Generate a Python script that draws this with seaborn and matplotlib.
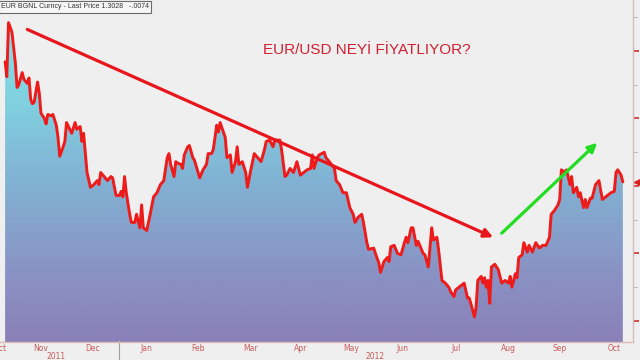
import numpy as np
import pandas as pd
import matplotlib
matplotlib.use("Agg")
import matplotlib.pyplot as plt
import matplotlib.dates as mdates
from matplotlib.colors import LinearSegmentedColormap
from matplotlib.ticker import MultipleLocator, NullFormatter
import seaborn as sns

# ---------------- data (EUR/USD) ----------------
dates = [
    "2011-10-26", "2011-10-27", "2011-10-28", "2011-10-30", "2011-11-01", "2011-11-02",
    "2011-11-03", "2011-11-05", "2011-11-06", "2011-11-08", "2011-11-09", "2011-11-10",
    "2011-11-11", "2011-11-12", "2011-11-14", "2011-11-15", "2011-11-16", "2011-11-18",
    "2011-11-19", "2011-11-20", "2011-11-22", "2011-11-23", "2011-11-25", "2011-11-26",
    "2011-11-27", "2011-11-29", "2011-11-30", "2011-12-01", "2011-12-04", "2011-12-06",
    "2011-12-07", "2011-12-09", "2011-12-10", "2011-12-11", "2011-12-13", "2011-12-15",
    "2011-12-17", "2011-12-19", "2011-12-20", "2011-12-21", "2011-12-23", "2011-12-25",
    "2011-12-27", "2011-12-28", "2011-12-30", "2012-01-01", "2012-01-02", "2012-01-03",
    "2012-01-04", "2012-01-05", "2012-01-07", "2012-01-08", "2012-01-10", "2012-01-11",
    "2012-01-13", "2012-01-14", "2012-01-15", "2012-01-17", "2012-01-19", "2012-01-21",
    "2012-01-23", "2012-01-25", "2012-01-27", "2012-01-29", "2012-01-30", "2012-01-31",
    "2012-02-02", "2012-02-03", "2012-02-04", "2012-02-06", "2012-02-07", "2012-02-08",
    "2012-02-10", "2012-02-11", "2012-02-13", "2012-02-14", "2012-02-17", "2012-02-19",
    "2012-02-21", "2012-02-22", "2012-02-24", "2012-02-25", "2012-02-27", "2012-02-28",
    "2012-02-29", "2012-03-03", "2012-03-04", "2012-03-06", "2012-03-07", "2012-03-09",
    "2012-03-10", "2012-03-11", "2012-03-13", "2012-03-15", "2012-03-16", "2012-03-18",
    "2012-03-20", "2012-03-22", "2012-03-24", "2012-03-26", "2012-03-27", "2012-03-29",
    "2012-03-31", "2012-04-01", "2012-04-04", "2012-04-05", "2012-04-07", "2012-04-08",
    "2012-04-10", "2012-04-12", "2012-04-14", "2012-04-16", "2012-04-18", "2012-04-20",
    "2012-04-22", "2012-04-23", "2012-04-24", "2012-04-26", "2012-04-27", "2012-04-30",
    "2012-05-01", "2012-05-03", "2012-05-06", "2012-05-07", "2012-05-09", "2012-05-11",
    "2012-05-13", "2012-05-15", "2012-05-17", "2012-05-18", "2012-05-20", "2012-05-22",
    "2012-05-23", "2012-05-25", "2012-05-26", "2012-05-29", "2012-05-30", "2012-06-01",
    "2012-06-02", "2012-06-04", "2012-06-06", "2012-06-07", "2012-06-08", "2012-06-10",
    "2012-06-12", "2012-06-14", "2012-06-16", "2012-06-17", "2012-06-18", "2012-06-20",
    "2012-06-21", "2012-06-23", "2012-06-24", "2012-06-27", "2012-06-28", "2012-06-30",
    "2012-07-02", "2012-07-03", "2012-07-05", "2012-07-06", "2012-07-08", "2012-07-10",
    "2012-07-12", "2012-07-13", "2012-07-15", "2012-07-16", "2012-07-18", "2012-07-20",
    "2012-07-21", "2012-07-23", "2012-07-24", "2012-07-26", "2012-07-27", "2012-07-28",
    "2012-07-29", "2012-07-31", "2012-08-01", "2012-08-02", "2012-08-03", "2012-08-04",
    "2012-08-05", "2012-08-06", "2012-08-08", "2012-08-10", "2012-08-12", "2012-08-14",
    "2012-08-16", "2012-08-17", "2012-08-18", "2012-08-20", "2012-08-21", "2012-08-22",
    "2012-08-24", "2012-08-25", "2012-08-27", "2012-08-28", "2012-08-30", "2012-09-01",
    "2012-09-03", "2012-09-05", "2012-09-07", "2012-09-09", "2012-09-10", "2012-09-12",
    "2012-09-14", "2012-09-15", "2012-09-16", "2012-09-18", "2012-09-19", "2012-09-21",
    "2012-09-22", "2012-09-23", "2012-09-25", "2012-09-26", "2012-09-27", "2012-09-29",
    "2012-09-30", "2012-10-01", "2012-10-03", "2012-10-04", "2012-10-06", "2012-10-08",
    "2012-10-10", "2012-10-11", "2012-10-13", "2012-10-15", "2012-10-17", "2012-10-18",
    "2012-10-19", "2012-10-21", "2012-10-22",
]
prices = [
    1.392, 1.381, 1.421, 1.414, 1.391, 1.373,
    1.375, 1.384, 1.379, 1.376, 1.380, 1.364,
    1.361, 1.362, 1.377, 1.369, 1.354, 1.350,
    1.346, 1.353, 1.352, 1.353, 1.345, 1.336,
    1.322, 1.329, 1.333, 1.347, 1.339, 1.347,
    1.342, 1.344, 1.333, 1.339, 1.310, 1.299,
    1.301, 1.304, 1.301, 1.310, 1.307, 1.304,
    1.307, 1.306, 1.293, 1.293, 1.296, 1.292,
    1.307, 1.295, 1.279, 1.273, 1.273, 1.279,
    1.269, 1.286, 1.269, 1.267, 1.279, 1.292,
    1.295, 1.301, 1.304, 1.321, 1.324, 1.316,
    1.307, 1.318, 1.317, 1.316, 1.313, 1.323,
    1.329, 1.330, 1.321, 1.319, 1.306, 1.312,
    1.316, 1.324, 1.324, 1.327, 1.345, 1.340,
    1.347, 1.336, 1.321, 1.323, 1.310, 1.318,
    1.329, 1.316, 1.318, 1.310, 1.299, 1.312,
    1.324, 1.321, 1.318, 1.327, 1.333, 1.334,
    1.329, 1.334, 1.334, 1.327, 1.307, 1.308,
    1.313, 1.310, 1.318, 1.308, 1.310, 1.312,
    1.313, 1.323, 1.313, 1.321, 1.323, 1.325,
    1.321, 1.318, 1.313, 1.304, 1.301, 1.295,
    1.295, 1.284, 1.279, 1.273, 1.277, 1.279,
    1.273, 1.258, 1.253, 1.254, 1.250, 1.243,
    1.236, 1.244, 1.247, 1.244, 1.255, 1.256,
    1.250, 1.249, 1.258, 1.262, 1.258, 1.269,
    1.269, 1.256, 1.259, 1.250, 1.249, 1.240,
    1.269, 1.260, 1.262, 1.253, 1.230, 1.228,
    1.225, 1.222, 1.218, 1.223, 1.225, 1.227,
    1.228, 1.217, 1.217, 1.208, 1.203, 1.210,
    1.230, 1.233, 1.228, 1.232, 1.225, 1.230,
    1.213, 1.240, 1.242, 1.238, 1.228, 1.230,
    1.228, 1.233, 1.225, 1.235, 1.232, 1.247,
    1.249, 1.258, 1.251, 1.256, 1.251, 1.258,
    1.254, 1.256, 1.256, 1.262, 1.279, 1.282,
    1.286, 1.290, 1.312, 1.310, 1.312, 1.301,
    1.307, 1.295, 1.299, 1.292, 1.295, 1.284,
    1.290, 1.284, 1.291, 1.291, 1.301, 1.304,
    1.290, 1.291, 1.293, 1.295, 1.296, 1.310,
    1.312, 1.308, 1.303,
]

month_labels = ["Oct", "Nov", "Dec", "Jan", "Feb", "Mar", "Apr", "May",
                "Jun", "Jul", "Aug", "Sep", "Oct"]
month_label_dates = ["2011-10-23", "2011-11-16", "2011-12-16", "2012-01-17",
                     "2012-02-16", "2012-03-18", "2012-04-16", "2012-05-16",
                     "2012-06-15", "2012-07-16", "2012-08-16", "2012-09-15",
                     "2012-10-17"]
month_starts = ["2011-11-01", "2011-12-01", "2012-02-01", "2012-03-01",
                "2012-04-01", "2012-05-01", "2012-06-01", "2012-07-01",
                "2012-08-01", "2012-09-01", "2012-10-01"]
year_labels = ["2011", "2012"]
year_label_dates = ["2011-11-25", "2012-05-30"]
year_break = "2012-01-01"

down_trend = (("2011-11-08", 1.416), ("2012-08-07", 1.262))
up_trend = (("2012-08-12", 1.265), ("2012-10-07", 1.332))

title_text = "EUR/USD NEYİ FİYATLIYOR?"
legend_text = "EUR BGNL Curncy - Last Price 1.3028   -.0074"
last_price = 1.3028

x_start, x_end = "2011-10-26", "2012-10-27 23:00"
y_low, y_high = 1.1844, 1.4378

# ---------------- styling ----------------
sns.set_theme(style="white")
BG = "#efefef"
LINE_RED = "#ee1b1b"
AX_RED = "#c85a5a"

df = pd.DataFrame({"date": pd.to_datetime(dates), "price": prices})

fig = plt.figure(figsize=(6.4, 3.6), dpi=100, facecolor=BG)
ax = fig.add_axes([0.0, 18 / 360, 633 / 640, 342 / 360])
ax.set_facecolor(BG)

xmin = mdates.date2num(pd.Timestamp(x_start))
xmax = mdates.date2num(pd.Timestamp(x_end))

# gradient area under the line
poly = ax.fill_between(df["date"], df["price"], y_low, color="none", lw=0)
grad = np.linspace(0, 1, 256).reshape(-1, 1)
cmap = LinearSegmentedColormap.from_list(
    "bbg", [(0.0, "#88e6ee"), (0.3, "#80d0e0"), (0.55, "#82afd2"),
            (0.8, "#8a92c4"), (1.0, "#8a80b8")])
im = ax.imshow(grad, extent=[xmin, xmax, y_low, y_high], aspect="auto",
               cmap=cmap, origin="upper", zorder=1, interpolation="bilinear")
im.set_clip_path(poly.get_paths()[0], transform=ax.transData)

sns.lineplot(data=df, x="date", y="price", ax=ax, color=LINE_RED,
             linewidth=2.1, zorder=3)

ax.set_xlim(xmin, xmax)
ax.set_ylim(y_low, y_high)
ax.set_xlabel("")
ax.set_ylabel("")

# trend arrows
def dpt(p):
    return (mdates.date2num(pd.Timestamp(p[0])), p[1])

ax.annotate("", xy=dpt(down_trend[1]), xytext=dpt(down_trend[0]),
            arrowprops=dict(arrowstyle="-|>", color="#e8161c", lw=2.3,
                            mutation_scale=13, shrinkA=0, shrinkB=0),
            zorder=4)
ax.annotate("", xy=dpt(up_trend[1]), xytext=dpt(up_trend[0]),
            arrowprops=dict(arrowstyle="-|>", color="#22dd22", lw=2.3,
                            mutation_scale=13, shrinkA=0, shrinkB=0),
            zorder=4)

# x axis: month labels centred mid-month, ticks at month starts
ax.set_xticks([mdates.date2num(pd.Timestamp(d)) for d in month_label_dates])
ax.set_xticklabels(month_labels)
ax.tick_params(axis="x", which="major", length=0, pad=1.5, labelsize=5.5,
               labelcolor=AX_RED)
ax.set_xticks([mdates.date2num(pd.Timestamp(d)) for d in month_starts], minor=True)
ax.tick_params(axis="x", which="minor", length=4, direction="inout",
               color="#a0a0a0", width=0.8)
for lab, d in zip(year_labels, year_label_dates):
    ax.text(mdates.date2num(pd.Timestamp(d)), -0.042, lab,
            transform=ax.get_xaxis_transform(), ha="center", va="center",
            fontsize=5.5, color=AX_RED, clip_on=False)
ax.plot([mdates.date2num(pd.Timestamp(year_break))] * 2, [0.005, -0.06],
        transform=ax.get_xaxis_transform(), color="#a0a0a0", lw=0.8,
        clip_on=False)

# right y axis
ax.yaxis.tick_right()
ax.yaxis.set_major_locator(MultipleLocator(0.05))
ax.yaxis.set_minor_locator(MultipleLocator(0.025))
ax.yaxis.set_major_formatter(NullFormatter())
ax.tick_params(axis="y", which="major", length=4, width=1.2, color="#d23030",
               direction="out")
ax.tick_params(axis="y", which="minor", length=3, width=0.8, color="#b8b8b8",
               direction="out")
ax.plot([1.0 + 4 / 633], [last_price], marker="<", ms=5, color="#d81e1e",
        transform=ax.get_yaxis_transform(), clip_on=False, zorder=5)

for s in ["left", "top"]:
    ax.spines[s].set_visible(False)
ax.spines["right"].set_color("#d8b8b8")
ax.spines["right"].set_linewidth(1.0)
ax.spines["bottom"].set_color("#e0b8b8")
ax.spines["bottom"].set_linewidth(1.0)
ax.grid(False)

# title text
fig.text(367 / 640, 1 - 54 / 360, title_text, ha="center", va="baseline",
         fontsize=11, color="#d22030",
         family=["Liberation Sans Narrow", "Liberation Sans", "DejaVu Sans"])

# legend box at top-left
fig.text(1 / 640, 1 - 7 / 360, legend_text, ha="left", va="center",
         fontsize=5, color="#333333", family=["Liberation Sans", "DejaVu Sans"],
         bbox=dict(boxstyle="square,pad=0.35", facecolor="#f6f6f6",
                   edgecolor="#6a6a6a", linewidth=0.8))

fig.savefig("out.png", dpi=100, facecolor=BG)
